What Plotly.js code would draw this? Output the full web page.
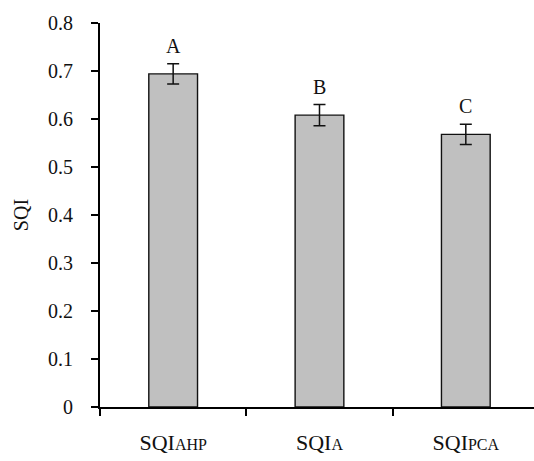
<!DOCTYPE html>
<html>
<head>
<meta charset="utf-8">
<script src="https://cdn.plot.ly/plotly-3.0.1.min.js"></script>
<style>
html,body{margin:0;padding:0;background:#fff;overflow:hidden;}
#chart{width:534px;height:461px;}
</style>
</head>
<body>
<div id="chart"></div>
<script>
// Data
const categories = ["SQI_AHP", "SQI_A", "SQI_PCA"];
const tickLabels = [
  'SQI<span style="font-size:16px">AHP</span>',
  'SQI<span style="font-size:16px">A</span>',
  'SQI<span style="font-size:16px">PCA</span>'
];
const sqiValues = [0.694, 0.608, 0.568];
const sqiErrors = [0.021, 0.022, 0.021];
const groupLetters = ["A", "B", "C"];
const yTickValues = [0, 0.1, 0.2, 0.3, 0.4, 0.5, 0.6, 0.7, 0.8];
const yTickLabels = ["0", "0.1", "0.2", "0.3", "0.4", "0.5", "0.6", "0.7", "0.8"];

const FONT = "Liberation Serif, Times New Roman, serif";

const trace = {
  type: "bar",
  x: categories,
  y: sqiValues,
  marker: { color: "#c0c0c0", line: { color: "#111", width: 1.4 } },
  error_y: { type: "data", array: sqiErrors, visible: true, color: "#111", thickness: 1.5, width: 6 },
  hoverinfo: "x+y"
};

const annotations = categories.map((c, i) => ({
  x: c,
  y: sqiValues[i] + sqiErrors[i],
  xref: "x", yref: "y",
  text: groupLetters[i],
  showarrow: false,
  yanchor: "middle",
  yshift: 18,
  font: { family: FONT, size: 20, color: "#111" }
}));

const layout = {
  width: 534,
  height: 461,
  margin: { l: 100, r: 0, t: 23, b: 54 },
  paper_bgcolor: "#fff",
  plot_bgcolor: "#fff",
  showlegend: false,
  bargap: 0.667,
  font: { family: FONT, size: 20, color: "#111" },
  xaxis: {
    type: "category",
    range: [-0.5, 2.466],
    tickvals: categories,
    ticktext: tickLabels,
    tickson: "boundaries",
    ticks: "outside",
    ticklen: 7,
    tickwidth: 2,
    tickcolor: "#000",
    showline: true,
    linecolor: "#000",
    linewidth: 2,
    showgrid: false,
    zeroline: false,
    ticklabelstandoff: 15,
    tickfont: { family: FONT, size: 22, color: "#111" },
    automargin: false
  },
  yaxis: {
    range: [0, 0.8],
    tickvals: yTickValues,
    ticktext: yTickLabels,
    ticks: "outside",
    ticklen: 7,
    tickwidth: 2,
    tickcolor: "#000",
    showline: true,
    linecolor: "#000",
    linewidth: 2,
    showgrid: false,
    zeroline: false,
    ticklabelstandoff: 14,
    tickfont: { family: FONT, size: 20, color: "#111" },
    title: { text: "SQI", font: { family: FONT, size: 20, color: "#111" }, standoff: 14 },
    automargin: false
  },
  annotations: annotations
};

Plotly.newPlot("chart", [trace], layout, { displayModeBar: false, staticPlot: true });
</script>
</body>
</html>
